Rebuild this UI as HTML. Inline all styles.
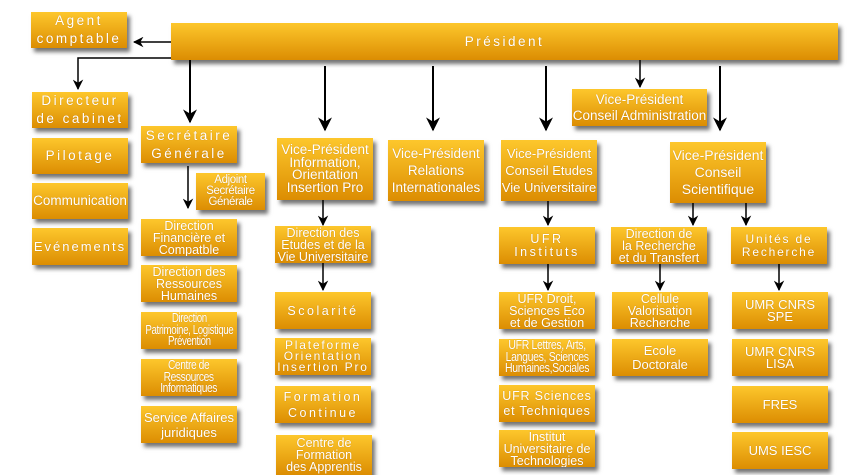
<!DOCTYPE html>
<html><head><meta charset="utf-8"><style>
body{margin:0;width:855px;height:467px;background:#fff;position:relative;overflow:hidden;font-family:"Liberation Sans",sans-serif;}
.b{position:absolute;background:linear-gradient(#fdc72c,#dc8d02);box-shadow:3px 4px 4px rgba(0,0,0,.55);color:#fff;display:flex;align-items:center;justify-content:center;text-align:center;font-size:12.5px;line-height:12px;box-sizing:border-box;text-shadow:0 0 1px rgba(120,60,0,.4);white-space:nowrap;overflow:hidden}
.s{letter-spacing:2.5px;font-size:13.5px;line-height:18px}
.t{font-size:11.5px;line-height:11px;letter-spacing:-.4px}
.n{display:inline-block;transform:scaleX(.82)}
svg{position:absolute;left:0;top:0}
</style></head><body>
<svg width="855" height="467">
<defs><marker id="a" viewBox="0 0 10 10" refX="9" refY="5" markerWidth="7" markerHeight="7" orient="auto"><path d="M0,0 L10,5 L0,10 L3,5z" fill="#000"/></marker></defs>
<g stroke="#000" stroke-width="1.5" fill="none" marker-end="url(#a)">
<line x1="171" y1="42" x2="134" y2="42"/>
<polyline points="171,58 78,58 78,89"/>
<line x1="190" y1="60" x2="190" y2="122" stroke-width="2"/>
<line x1="325" y1="66" x2="325" y2="130" stroke-width="2"/>
<line x1="433" y1="66" x2="433" y2="130" stroke-width="2"/>
<line x1="546" y1="66" x2="546" y2="130" stroke-width="2"/>
<line x1="640" y1="60" x2="640" y2="87"/>
<line x1="720" y1="66" x2="720" y2="130" stroke-width="2"/>
<line x1="188" y1="166" x2="188" y2="208"/>
<line x1="323" y1="200" x2="323" y2="225"/>
<line x1="323" y1="263" x2="323" y2="290"/>
<line x1="548" y1="201" x2="548" y2="225"/>
<line x1="548" y1="264" x2="548" y2="290"/>
<line x1="693" y1="203" x2="693" y2="225"/>
<line x1="746" y1="203" x2="746" y2="225"/>
<line x1="660" y1="264" x2="660" y2="290"/>
<line x1="779" y1="264" x2="779" y2="290"/>
</g></svg>
<div class="b s" style="left:31px;top:12px;width:96px;height:36px">Agent<br>comptable</div>
<div class="b s" style="left:171px;top:23px;width:667px;height:37px">Président</div>
<div class="b s" style="left:32px;top:92px;width:96px;height:36px">Directeur<br>de cabinet</div>
<div class="b s" style="left:32px;top:138px;width:96px;height:36px">Pilotage</div>
<div class="b" style="left:32px;top:183px;width:96px;height:36px;font-size:13.5px">Communication</div>
<div class="b s" style="left:32px;top:228px;width:96px;height:37px;letter-spacing:2px;font-size:13px">Evénements</div>
<div class="b s" style="left:141px;top:126px;width:96px;height:37px">Secrétaire<br>Générale</div>
<div class="b t" style="left:196px;top:173px;width:69px;height:37px">Adjoint<br>Secrétaire<br>Générale</div>
<div class="b" style="left:277px;top:138px;width:96px;height:62px;font-size:13.5px;line-height:12.5px">Vice-Président<br>Information,<br>Orientation<br>Insertion Pro</div>
<div class="b" style="left:388px;top:140px;width:96px;height:61px;font-size:13.5px;line-height:17px">Vice-Président<br>Relations<br>Internationales</div>
<div class="b" style="left:501px;top:140px;width:96px;height:61px;font-size:13px;line-height:17px">Vice-Président<br>Conseil Etudes<br>Vie Universitaire</div>
<div class="b" style="left:572px;top:89px;width:135px;height:37px;font-size:13.5px;line-height:16px">Vice-Président<br>Conseil Administration</div>
<div class="b" style="left:670px;top:142px;width:96px;height:61px;font-size:14px;line-height:17px">Vice-Président<br>Conseil<br>Scientifique</div>
<div class="b" style="left:141px;top:219px;width:96px;height:37px">Direction<br>Financière et<br>Compatble</div>
<div class="b" style="left:141px;top:265px;width:96px;height:37px">Direction des<br>Ressources<br>Humaines</div>
<div class="b" style="left:141px;top:312px;width:96px;height:37px;font-size:12.5px;line-height:11.5px;letter-spacing:-.5px"><span class="n" style="transform:scaleX(.78)">Direction<br>Patrimoine, Logistique<br>Prévention</span></div>
<div class="b" style="left:141px;top:359px;width:96px;height:37px;font-size:12.5px;line-height:11.5px;letter-spacing:-.5px"><span class="n">Centre de<br>Ressources<br>Informatiques</span></div>
<div class="b" style="left:141px;top:406px;width:96px;height:37px;line-height:15px;font-size:13px">Service Affaires<br>juridiques</div>
<div class="b" style="left:275px;top:226px;width:96px;height:37px">Direction des<br>Etudes et de la<br>Vie Universitaire</div>
<div class="b s" style="left:275px;top:292px;width:96px;height:37px;font-size:12.5px">Scolarité</div>
<div class="b s" style="left:275px;top:338px;width:96px;height:37px;font-size:12px;line-height:11px;letter-spacing:1.8px">Plateforme<br>Orientation<br>Insertion Pro</div>
<div class="b s" style="left:275px;top:386px;width:96px;height:37px;font-size:12.5px;line-height:16px">Formation<br>Continue</div>
<div class="b" style="left:276px;top:435px;width:96px;height:40px">Centre de<br>Formation<br>des Apprentis</div>
<div class="b s" style="left:499px;top:227px;width:96px;height:37px;font-size:12.5px;line-height:13px">UFR<br>Instituts</div>
<div class="b" style="left:611px;top:227px;width:96px;height:37px">Direction de<br>la Recherche<br>et du Transfert</div>
<div class="b s" style="left:731px;top:227px;width:96px;height:37px;font-size:12px;line-height:13px;letter-spacing:1.8px">Unités de<br>Recherche</div>
<div class="b" style="left:499px;top:292px;width:96px;height:37px">UFR Droit,<br>Sciences Eco<br>et de Gestion</div>
<div class="b" style="left:499px;top:339px;width:96px;height:37px;font-size:12.5px;line-height:11.5px;letter-spacing:-.4px"><span class="n" style="transform:scaleX(.84)">UFR Lettres, Arts,<br>Langues, Sciences<br>Humaines,Sociales</span></div>
<div class="b" style="left:499px;top:385px;width:96px;height:37px;line-height:15px;letter-spacing:.8px">UFR Sciences<br>et Techniques</div>
<div class="b" style="left:499px;top:430px;width:96px;height:37px">Institut<br>Universitaire de<br>Technologies</div>
<div class="b" style="left:612px;top:292px;width:96px;height:37px">Cellule<br>Valorisation<br>Recherche</div>
<div class="b" style="left:612px;top:339px;width:96px;height:37px;line-height:14px;font-size:13px">Ecole<br>Doctorale</div>
<div class="b" style="left:732px;top:292px;width:96px;height:37px;font-size:13px">UMR CNRS<br>SPE</div>
<div class="b" style="left:732px;top:339px;width:96px;height:37px;font-size:13px">UMR CNRS<br>LISA</div>
<div class="b" style="left:732px;top:386px;width:96px;height:37px;font-size:13px">FRES</div>
<div class="b" style="left:732px;top:432px;width:96px;height:37px;font-size:13px">UMS IESC</div>
</body></html>
